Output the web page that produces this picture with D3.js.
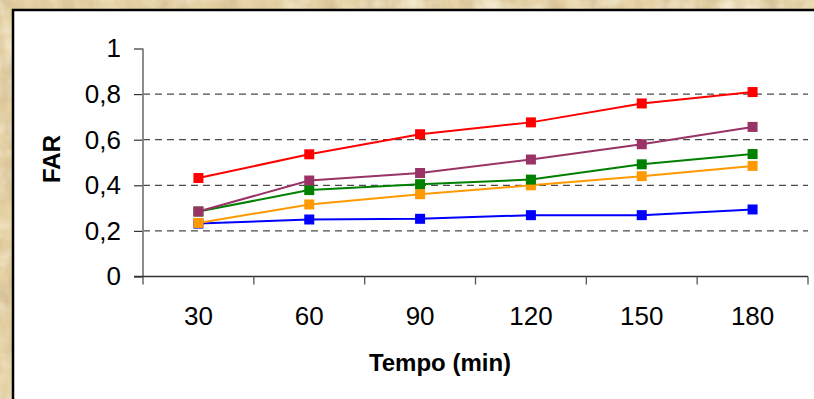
<!DOCTYPE html>
<html>
<head>
<meta charset="utf-8">
<script src="https://cdn.jsdelivr.net/npm/d3@7/dist/d3.min.js"></script>
<style>
  html, body { margin: 0; padding: 0; background: #e6d3a6; }
  svg { display: block; }
  text { font-family: Arial, "Liberation Sans", sans-serif; fill: #000; }
</style>
</head>
<body>
<svg id="chart" width="814" height="399"></svg>
<script>
// Time points (minutes) on the category axis
const categories = ["30", "60", "90", "120", "150", "180"];

// FAR values per series, one entry per time point
const seriesBlue   = [0.232, 0.250, 0.253, 0.269, 0.269, 0.294];
const seriesOrange = [0.235, 0.316, 0.361, 0.400, 0.440, 0.485];
const seriesGreen  = [0.285, 0.379, 0.405, 0.425, 0.492, 0.537];
const seriesPurple = [0.285, 0.421, 0.454, 0.513, 0.580, 0.656];
const seriesRed    = [0.432, 0.536, 0.624, 0.676, 0.759, 0.809];

// Value axis ticks and their labels (decimal comma)
const yTicks = [0, 0.2, 0.4, 0.6, 0.8, 1];
const yTickLabels = ["0", "0,2", "0,4", "0,6", "0,8", "1"];
const gridTicks = [0.2, 0.4, 0.6, 0.8];

const xTitle = "Tempo (min)";
const yTitle = "FAR";

const series = [
  { name: "blue",   color: "#0000ff", values: seriesBlue },
  { name: "orange", color: "#ff9900", values: seriesOrange },
  { name: "green",  color: "#008000", values: seriesGreen },
  { name: "purple", color: "#993366", values: seriesPurple },
  { name: "red",    color: "#ff0000", values: seriesRed }
];

const svg = d3.select("#chart");
const W = 814, H = 399;

// Parchment backdrop
const defs = svg.append("defs");
const f = defs.append("filter").attr("id", "paper")
  .attr("x", 0).attr("y", 0).attr("width", "100%").attr("height", "100%");
f.append("feTurbulence").attr("type", "fractalNoise")
  .attr("baseFrequency", "0.05 0.025").attr("numOctaves", 4).attr("seed", 7);
f.append("feColorMatrix").attr("type", "matrix")
  .attr("values", "0 0 0 0 0.55  0 0 0 0 0.42  0 0 0 0 0.22  1.3 0 0 0 -0.55");
const f2 = defs.append("filter").attr("id", "paperLight")
  .attr("x", 0).attr("y", 0).attr("width", "100%").attr("height", "100%");
f2.append("feTurbulence").attr("type", "fractalNoise")
  .attr("baseFrequency", "0.03 0.06").attr("numOctaves", 3).attr("seed", 3);
f2.append("feColorMatrix").attr("type", "matrix")
  .attr("values", "0 0 0 0 0.98  0 0 0 0 0.94  0 0 0 0 0.84  0 1.4 0 0 -0.6");

svg.append("rect").attr("width", W).attr("height", H).attr("fill", "#e6d3a6");
svg.append("rect").attr("width", W).attr("height", H).attr("filter", "url(#paperLight)");
svg.append("rect").attr("width", W).attr("height", H).attr("filter", "url(#paper)");

// White chart panel with dark frame
svg.append("rect")
  .attr("x", 13).attr("y", 10)
  .attr("width", W + 10).attr("height", H + 10)
  .attr("fill", "#ffffff")
  .attr("stroke", "#000")
  .attr("stroke-width", 2.5);

// Plot area scales
const plotLeft = 143, plotRight = 808, plotTop = 48.5, plotBottom = 276.5;
const x = d3.scaleBand().domain(categories).range([plotLeft, plotRight]).padding(0);
const y = d3.scaleLinear().domain([0, 1]).range([plotBottom, plotTop]);
const cx = d => x(d) + x.bandwidth() / 2;

// Dashed horizontal gridlines
svg.append("g").selectAll("line").data(gridTicks).join("line")
  .attr("x1", plotLeft).attr("x2", plotRight)
  .attr("y1", d => y(d)).attr("y2", d => y(d))
  .attr("stroke", "#4a4a4a").attr("stroke-width", 1.3)
  .attr("stroke-dasharray", "7,5");

// Y axis
const yAxis = svg.append("g")
  .attr("transform", `translate(${plotLeft},0)`)
  .call(d3.axisLeft(y).tickValues(yTicks)
    .tickFormat((d, i) => yTickLabels[i])
    .tickSize(9).tickPadding(13));
yAxis.select(".domain").remove();
yAxis.selectAll(".tick line").attr("stroke", "#333").attr("stroke-width", 1.2);
yAxis.selectAll(".tick text")
  .style("font-family", "Arial, 'Liberation Sans', sans-serif")
  .style("font-size", "26px").attr("fill", "#000");
svg.append("line")
  .attr("x1", plotLeft).attr("x2", plotLeft)
  .attr("y1", y(1)).attr("y2", plotBottom + 8)
  .attr("stroke", "#808080").attr("stroke-width", 1.8);

// X axis: category labels at band centres, tick marks at band boundaries
const xAxis = svg.append("g")
  .attr("transform", `translate(0,${plotBottom})`)
  .call(d3.axisBottom(x).tickSize(0).tickPadding(30));
xAxis.select(".domain").remove();
xAxis.selectAll(".tick text")
  .style("font-family", "Arial, 'Liberation Sans', sans-serif")
  .style("font-size", "26px").attr("fill", "#000");
svg.append("line")
  .attr("x1", plotLeft - 9).attr("x2", plotRight)
  .attr("y1", plotBottom).attr("y2", plotBottom)
  .attr("stroke", "#333").attr("stroke-width", 1.5);
const boundaries = categories.map(c => x(c)).concat([x(categories[categories.length - 1]) + x.bandwidth()]);
svg.append("g").selectAll("line").data(boundaries.slice(1)).join("line")
  .attr("x1", d => d).attr("x2", d => d)
  .attr("y1", plotBottom).attr("y2", plotBottom + 8)
  .attr("stroke", "#555").attr("stroke-width", 1.3);

// Series lines and square markers
const line = d3.line().x((d, i) => cx(categories[i])).y(d => y(d));
const gSeries = svg.append("g");
series.forEach(s => {
  const g = gSeries.append("g");
  g.append("path").attr("d", line(s.values))
    .attr("fill", "none").attr("stroke", s.color).attr("stroke-width", 2);
  g.selectAll("rect").data(s.values).join("rect")
    .attr("x", (d, i) => cx(categories[i]) - 5)
    .attr("y", d => y(d) - 5)
    .attr("width", 10).attr("height", 10)
    .attr("fill", s.color);
});

// Axis titles
svg.append("text")
  .attr("x", 440).attr("y", 371)
  .attr("text-anchor", "middle")
  .style("font-size", "24px").style("font-weight", "bold")
  .text(xTitle);
svg.append("text")
  .attr("transform", "translate(60,159) rotate(-90)")
  .attr("text-anchor", "middle")
  .style("font-size", "24px").style("font-weight", "bold")
  .text(yTitle);
</script>
</body>
</html>
